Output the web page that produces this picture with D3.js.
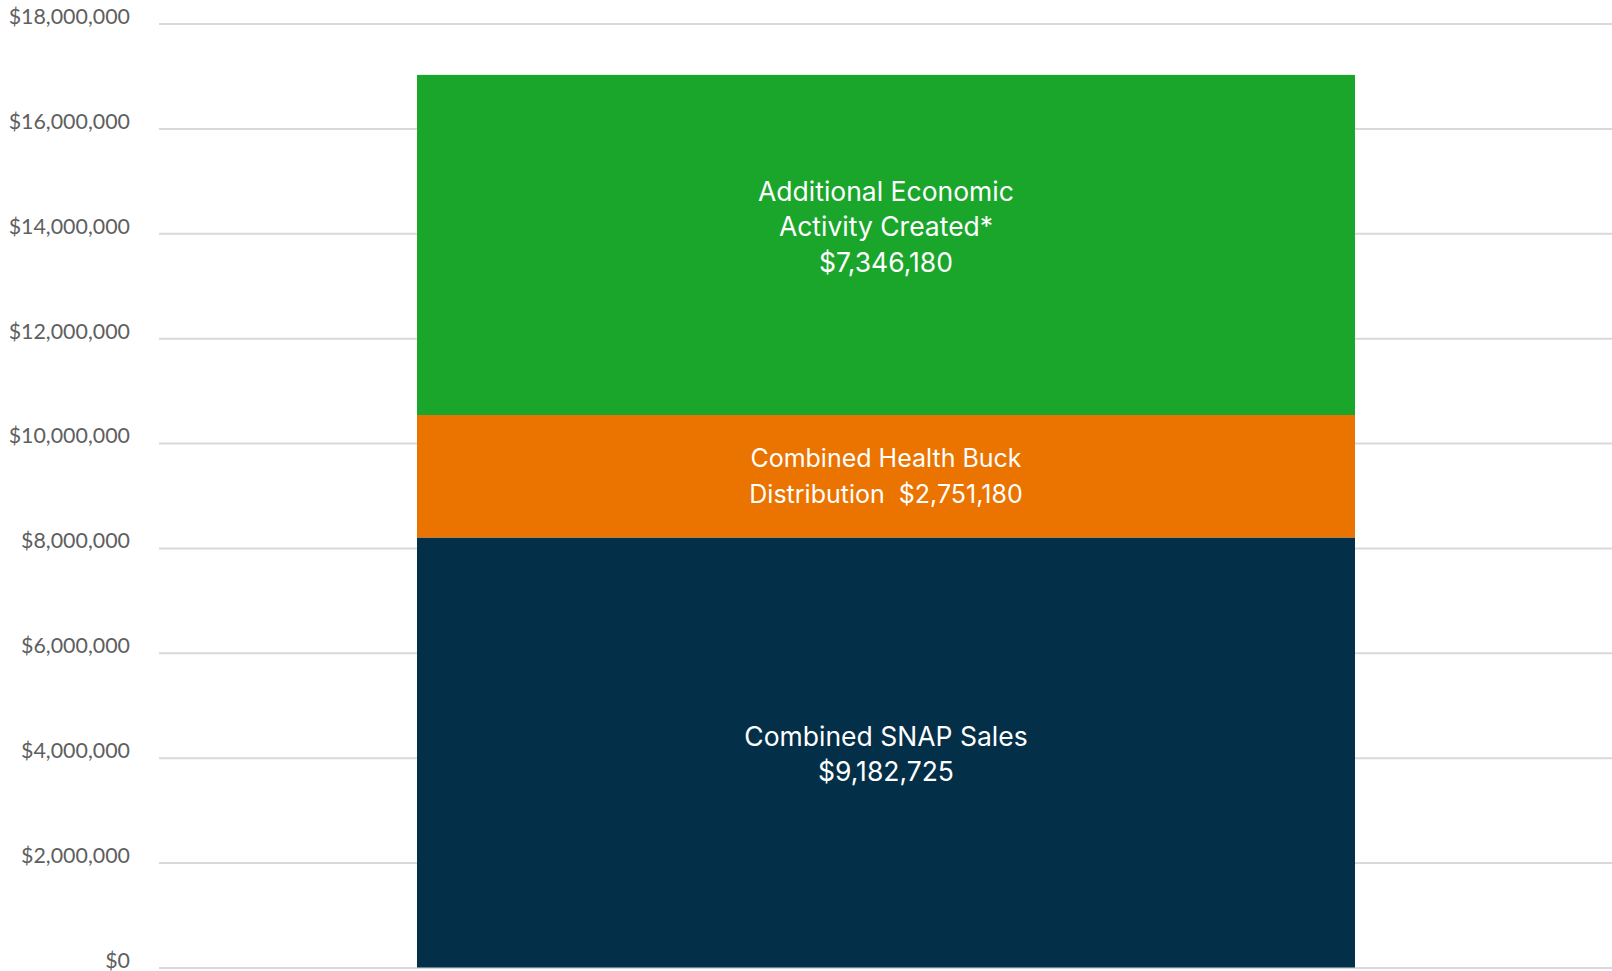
<!DOCTYPE html>
<html>
<head>
<meta charset="utf-8">
<script src="https://cdn.jsdelivr.net/npm/d3@7"></script>
<style>
  html, body { margin: 0; padding: 0; background: #fff; }
  svg { display: block; }
</style>
</head>
<body>
<svg id="chart" width="1612" height="971"></svg>
<script>
// ---- data ----
const categories = ["Total"];
const seriesNames = ["Combined SNAP Sales", "Combined Health Buck Distribution", "Additional Economic Activity Created"];
const seriesValues = [8200000, 2335000, 6485000];
const seriesLabels = [
  ["Combined SNAP Sales", "$9,182,725"],
  ["Combined Health Buck", "Distribution  $2,751,180"],
  ["Additional Economic", "Activity Created*", "$7,346,180"]
];
const tickValues = [0, 2000000, 4000000, 6000000, 8000000, 10000000, 12000000, 14000000, 16000000, 18000000];

// ---- styles ----
const seriesColors = ["#033048", "#eb7300", "#1aa62b"];
const labelFontSizes = [26.5, 25, 26.5];
const labelOffsets = [1.5, 0, -18];

// ---- layout ----
const svg = d3.select("#chart");
const gridLeft = 159, plotRight = 1612;
const yTop = 23.5, yBottom = 967.5;

const y = d3.scaleLinear().domain([0, 18000000]).range([yBottom, yTop]);
const x = d3.scaleBand().domain(categories).range([417, 1355]).padding(0);

// gridlines via axis
const yAxis = d3.axisLeft(y)
  .tickValues(tickValues)
  .tickSize(-(plotRight - gridLeft))
  .tickPadding(0)
  .tickFormat(d => "$" + d3.format(",")(d));

const gAxis = svg.append("g").attr("transform", `translate(${gridLeft},0)`).call(yAxis);
gAxis.select(".domain").remove();
gAxis.selectAll(".tick line").attr("stroke", "#d9d9d9").attr("stroke-width", 2);
gAxis.selectAll(".tick text")
  .attr("x", 130 - gridLeft)
  .attr("y", -7)
  .attr("dy", "0.32em")
  .attr("fill", "#5f5f5f")
  .style("font-family", "Lato, 'Open Sans', sans-serif")
  .style("font-size", "21.4px")
  .attr("text-anchor", "end");

// stacked segments
const stackData = [{ cat: categories[0] }];
seriesNames.forEach((n, i) => stackData[0][n] = seriesValues[i]);
const stacked = d3.stack().keys(seriesNames)(stackData);

const gBars = svg.append("g");
stacked.forEach((layer, i) => {
  const d = layer[0];
  gBars.append("rect")
    .attr("x", x(d.data.cat))
    .attr("width", x.bandwidth())
    .attr("y", y(d[1]))
    .attr("height", y(d[0]) - y(d[1]))
    .attr("fill", seriesColors[i]);
});

// labels
const lineH = 35.5;
stacked.forEach((layer, i) => {
  const d = layer[0];
  const cy = (y(d[0]) + y(d[1])) / 2 + labelOffsets[i];
  const lines = seriesLabels[i];
  const cx = x(d.data.cat) + x.bandwidth() / 2;
  const t = svg.append("text")
    .attr("text-anchor", "middle")
    .attr("fill", "#ffffff")
    .style("font-family", "Inter, Roboto, sans-serif")
    .style("font-size", labelFontSizes[i] + "px");
  lines.forEach((ln, k) => {
    t.append("tspan")
      .attr("x", cx)
      .attr("y", cy + (k - (lines.length - 1) / 2) * lineH)
      .attr("dy", "0.35em")
      .attr("xml:space", "preserve")
      .style("white-space", "pre")
      .text(ln);
  });
});
</script>
</body>
</html>
